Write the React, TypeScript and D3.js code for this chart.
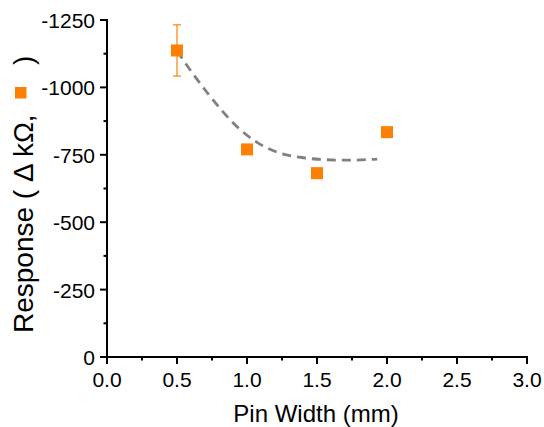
import React from "react";
import * as d3 from "d3";

const pinWidth = [0.5, 1.0, 1.5, 2.0];
const response = [-1137, -770, -682, -834];
const responseErr = [95, 0, 0, 0];
const fitX = [0.5, 0.605, 0.712, 0.819, 0.931, 1.069, 1.224, 1.39, 1.557, 1.724, 1.89, 1.93];
const fitY = [-1135, -1057, -983, -915, -853, -797, -758, -740, -732, -730, -733, -734];
const xTicks = [0, 0.5, 1.0, 1.5, 2.0, 2.5, 3.0];
const yTicks = [0, -250, -500, -750, -1000, -1250];

const W = 544, H = 427;
const FONT = "Arial, 'Liberation Sans', sans-serif";

export default function App() {
  const x = d3.scaleLinear().domain([0, 3]).range([107, 527]);
  const y = d3.scaleLinear().domain([0, -1250]).range([357, 20]);
  const line = d3.line<number>().x((_, i) => x(fitX[i])).y((d) => y(d)).curve(d3.curveMonotoneX);
  const xMinor = d3.range(0, 12).map((i) => 0.25 + i * 0.5).filter((v) => v < 3);
  const yMinor = d3.range(0, 5).map((i) => -125 - i * 250);
  const sq = 12;
  return (
    <svg width={W} height={H} style={{ position: "absolute", left: 0, top: 0 }} fontFamily={FONT}>
      <rect width={W} height={H} fill="#fff" />
      {/* fit curve */}
      <path d={line(fitY) || ""} fill="none" stroke="#808080" strokeWidth={2.8} strokeDasharray="9,6" />
      {/* error bars */}
      {pinWidth.map((px, i) =>
        responseErr[i] > 0 ? (
          <g key={"e" + i} stroke="#FF8000" strokeWidth={1.2}>
            <line x1={x(px)} x2={x(px)} y1={y(response[i] - responseErr[i])} y2={y(response[i] + responseErr[i])} />
            <line x1={x(px) - 4} x2={x(px) + 4} y1={y(response[i] - responseErr[i])} y2={y(response[i] - responseErr[i])} />
            <line x1={x(px) - 4} x2={x(px) + 4} y1={y(response[i] + responseErr[i])} y2={y(response[i] + responseErr[i])} />
          </g>
        ) : null
      )}
      {/* markers */}
      {pinWidth.map((px, i) => (
        <rect key={"m" + i} x={x(px) - sq / 2} y={y(response[i]) - sq / 2} width={sq} height={sq} fill="#FF8000" />
      ))}
      {/* axes */}
      <g stroke="#000" strokeWidth={2}>
        <line x1={x(0) - 1} x2={x(3) + 1} y1={y(0)} y2={y(0)} />
        <line x1={x(0)} x2={x(0)} y1={y(0) + 1} y2={y(-1250) - 1} />
        {xTicks.map((t) => (
          <line key={"xt" + t} x1={x(t)} x2={x(t)} y1={y(0)} y2={y(0) + 7} />
        ))}
        {xMinor.map((t) => (
          <line key={"xm" + t} x1={x(t)} x2={x(t)} y1={y(0)} y2={y(0) + 3.5} />
        ))}
        {yTicks.map((t) => (
          <line key={"yt" + t} x1={x(0) - 7} x2={x(0)} y1={y(t)} y2={y(t)} />
        ))}
        {yMinor.map((t) => (
          <line key={"ym" + t} x1={x(0) - 3.5} x2={x(0)} y1={y(t)} y2={y(t)} />
        ))}
      </g>
      {xTicks.map((t) => (
        <text key={"xl" + t} x={x(t)} y={387} textAnchor="middle" fontSize={21} fill="#000">
          {t.toFixed(1)}
        </text>
      ))}
      {yTicks.map((t) => (
        <text key={"yl" + t} x={95} y={y(t) + 8} textAnchor="end" fontSize={21} fill="#000">
          {t}
        </text>
      ))}
      <text x={316} y={422} textAnchor="middle" fontSize={24} fill="#000">
        Pin Width (mm)
      </text>
      <g transform="translate(32.5,333) rotate(-90)">
        <text x={0} y={0} fontSize={28} fill="#000">Response ( Δ kΩ,</text>
        <text x={268} y={0} fontSize={28} fill="#000">)</text>
      </g>
      <rect x={15} y={87} width={11.5} height={11.5} fill="#FF8000" />
    </svg>
  );
}
